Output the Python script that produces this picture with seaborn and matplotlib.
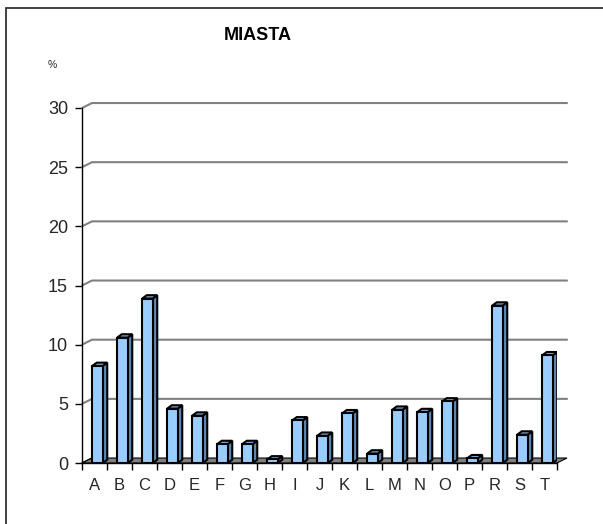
import numpy as np
import pandas as pd
import matplotlib
matplotlib.use("Agg")
import matplotlib.pyplot as plt
from matplotlib.patches import Polygon, Rectangle
import seaborn as sns

# data
miasta = ["A", "B", "C", "D", "E", "F", "G", "H", "I", "J",
          "K", "L", "M", "N", "O", "P", "R", "S", "T"]
procent = [8.2, 10.6, 13.9, 4.6, 4.0, 1.6, 1.6, 0.3, 3.6, 2.3,
           4.2, 0.8, 4.5, 4.3, 5.2, 0.4, 13.3, 2.4, 9.1]
y_ticks = [0, 5, 10, 15, 20, 25, 30]

df = pd.DataFrame({"miasto": miasta, "procent": procent})

sns.set_style("white")
plt.rcParams["font.family"] = ["Liberation Sans", "DejaVu Sans"]

fig = plt.figure(figsize=(6.03, 5.24), dpi=100)
ax = fig.add_axes([82 / 603, 61 / 524, 475 / 603, 355 / 524])

# depth of the fake 3d look (data units)
wx, wy = 0.4, 0.42       # back wall offset
bx, by = 0.18, 0.28      # bar side / top depth
shift = 0.12

sns.barplot(data=df, x="miasto", y="procent", color="#99CCFF", saturation=1,
            width=0.42, edgecolor="black", linewidth=1.5, ax=ax, zorder=3)

for p in ax.patches:
    p.set_x(p.get_x() + shift)
    x0, w, h = p.get_x(), p.get_width(), p.get_height()
    side = Polygon([(x0 + w, 0), (x0 + w + bx, by), (x0 + w + bx, h + by), (x0 + w, h)],
                   closed=True, facecolor="#5f86b0", edgecolor="black", lw=1.5, zorder=2.9)
    top = Polygon([(x0, h), (x0 + w, h), (x0 + w + bx, h + by), (x0 + bx, h + by)],
                  closed=True, facecolor="#7fa9d6", edgecolor="black", lw=1.5, zorder=2.9)
    ax.add_patch(side)
    ax.add_patch(top)

n = len(miasta)
ax.set_xlim(-0.5, n - 0.5)
ax.set_ylim(0, 30)

# back wall gridlines with short diagonals to the front axis
for v in y_ticks[1:]:
    ax.plot([-0.5, -0.5 + wx, n - 0.5 + wx], [v, v + wy, v + wy],
            color="#808080", lw=1.5, clip_on=False, zorder=1)
ax.plot([-0.5, -0.5 + wx], [0, wy], color="black", lw=1, clip_on=False, zorder=2)

# floor
floor = Polygon([(-0.5, 0), (n - 0.5, 0), (n - 0.5 + wx, wy), (-0.5 + wx, wy)],
                closed=True, facecolor="#808080", edgecolor="black", lw=0.8,
                clip_on=False, zorder=2)
ax.add_patch(floor)

ax.set_yticks(y_ticks)
ax.set_yticklabels([str(t) for t in y_ticks], fontsize=13)
ax.set_xticks(np.arange(-0.5, n, 1), minor=False)
ax.set_xticklabels([])
ax.set_xticks(np.arange(n), minor=True)
ax.set_xticklabels(miasta, minor=True, fontsize=12)
ax.tick_params(axis="x", which="major", length=5, width=1, color="black", direction="out", bottom=True)
ax.tick_params(axis="x", which="minor", length=0, pad=11)
ax.tick_params(axis="y", length=5, width=1, color="black", direction="out", left=True, pad=5)
ax.set_xlabel("")
ax.set_ylabel("")

for s in ["top", "right"]:
    ax.spines[s].set_visible(False)
for s in ["left", "bottom"]:
    ax.spines[s].set_color("black")
    ax.spines[s].set_linewidth(1)

fig.text(258 / 603, 1 - 35 / 524, "MIASTA", ha="center", va="center",
         fontsize=13, fontweight="bold", color="black")
fig.text(52 / 603, 1 - 65 / 524, "%", ha="center", va="center", fontsize=7.5)

# chart frame
fig.patches.append(Rectangle((6 / 603, -0.2), 1.5, 1.2 - 8 / 524, transform=fig.transFigure,
                             fill=False, edgecolor="#333333", lw=1.3))

fig.savefig("out.png", dpi=100)
